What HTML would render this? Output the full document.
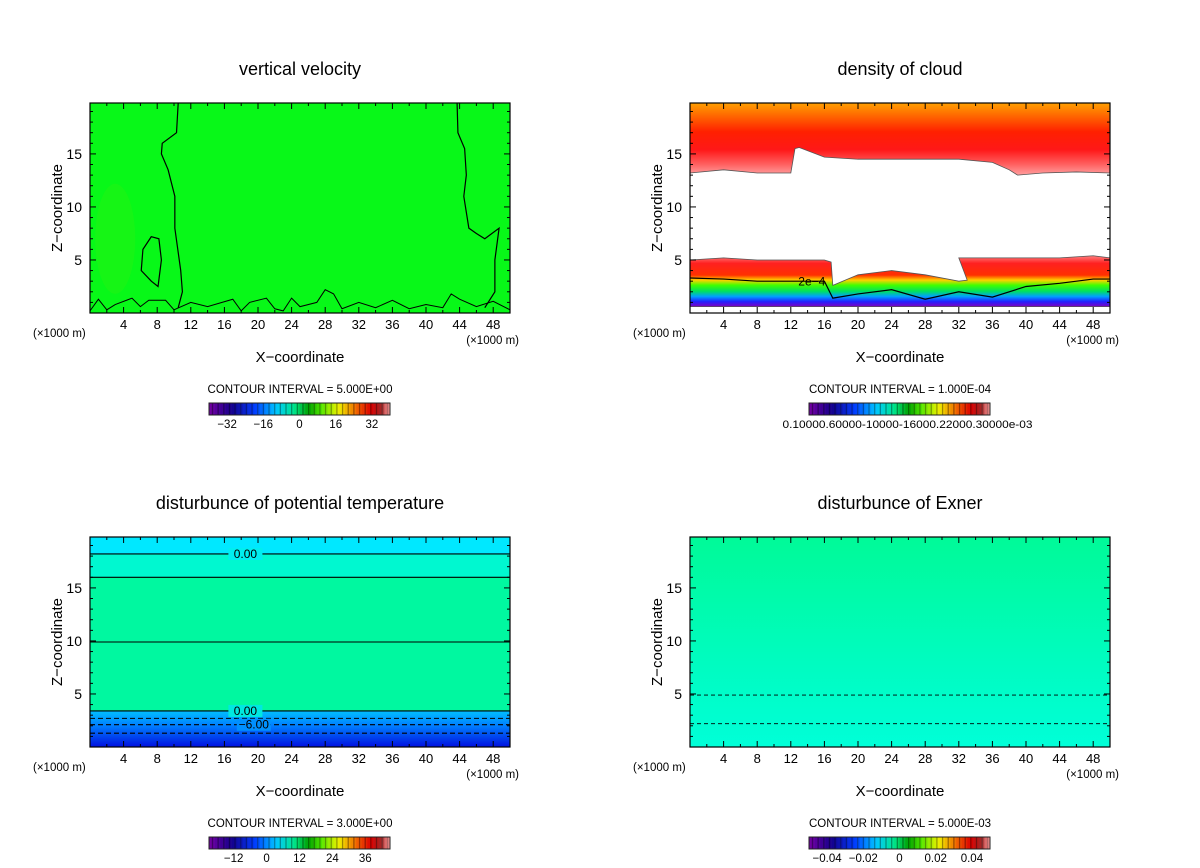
<!DOCTYPE html>
<html><head><meta charset="utf-8"><style>
html,body{margin:0;padding:0;background:#fff;}
svg{display:block;font-family:"Liberation Sans",sans-serif;}
</style></head><body>
<svg id="fig" width="1200" height="868" viewBox="0 0 1200 868" xmlns="http://www.w3.org/2000/svg">
<defs>
<linearGradient id="cloudTop" x1="0" y1="0" x2="0" y2="1">
<stop offset="0" stop-color="#ffa000"/><stop offset="0.2" stop-color="#ff6000"/><stop offset="0.4" stop-color="#ff2000"/><stop offset="0.65" stop-color="#ff1818"/><stop offset="0.85" stop-color="#ff6060"/><stop offset="1" stop-color="#ffa0a0"/></linearGradient>
<linearGradient id="cloudLow" x1="0" y1="0" x2="0" y2="1">
<stop offset="0" stop-color="#ff8080"/><stop offset="0.15" stop-color="#ff2020"/><stop offset="0.38" stop-color="#ff3000"/><stop offset="0.48" stop-color="#ffd000"/><stop offset="0.58" stop-color="#40ff00"/><stop offset="0.7" stop-color="#00e060"/><stop offset="0.8" stop-color="#00a0ff"/><stop offset="0.9" stop-color="#2020ff"/><stop offset="1" stop-color="#8000c0"/></linearGradient>
<linearGradient id="thetaLow" x1="0" y1="0" x2="0" y2="1">
<stop offset="0" stop-color="#00c0ff"/><stop offset="0.4" stop-color="#0080ff"/><stop offset="1" stop-color="#0010e0"/></linearGradient>
<linearGradient id="exner" x1="0" y1="0" x2="0" y2="1">
<stop offset="0" stop-color="#00fa98"/><stop offset="0.6" stop-color="#00fcc0"/><stop offset="1" stop-color="#00ffd8"/></linearGradient>
</defs>
</svg>
<script>
// ---- data ----
const xTicks = [4,8,12,16,20,24,28,32,36,40,44,48];
const yTicks = [5,10,15];
const xMax = 50, yMax = 19.8;
const titles = ["vertical velocity","density of cloud","disturbunce of potential temperature","disturbunce of Exner"];
const intervals = ["5.000E+00","1.000E-04","3.000E+00","5.000E-03"];
const cbLabelsW = ["-32","-16","0","16","32"], cbValsW = [-32,-16,0,16,32], cbRangeW=[-40,40];
const cbLabelsT = ["-12","0","12","24","36"], cbValsT = [-12,0,12,24,36], cbRangeT=[-21,45];
const cbLabelsP = ["-0.04","-0.02","0","0.02","0.04"], cbValsP = [-0.04,-0.02,0,0.02,0.04], cbRangeP=[-0.05,0.05];
const cloudX =      [0,4,8,12,12.5,13,16,20,24,28,32,36,38,39,42,46,50];
const cloudTopBase =[13.2,13.5,13.2,13.2,15.5,15.6,14.7,14.5,14.5,14.5,14.5,14.2,13.5,13.0,13.2,13.3,13.2];
const lowX =   [0,4,8,12,16,16.8,17,20,24,28,32,33,32,36,40,44,48,50];
const lowTop = [5,5.2,5,5,5,4.8,2.6,3.6,4,3.6,3,3.1,5.2,5.2,5.2,5.2,5.4,5.2];
const thetaSolid = [18.2,16,9.9,3.4];
const thetaDashed = [2.7,2.1,1.3];
const exnerDashed = [4.9,2.2];
// ---- layout ----
const NS="http://www.w3.org/2000/svg";
const svg=document.getElementById('fig');
function el(tag,attrs,parent){const e=document.createElementNS(NS,tag);for(const k in attrs)e.setAttribute(k,attrs[k]);(parent||svg).appendChild(e);return e;}
const panels=[{x0:90,y0:103},{x0:690,y0:103},{x0:90,y0:537},{x0:690,y0:537}];
const W=420,H=210;
function sx(p,v){return p.x0+v/xMax*W;}
function sy(p,v){return p.y0+H-v/yMax*H;}

panels.forEach((p,i)=>{
  const g=el('g',{});
  
  
  const t=el('text',{x:p.x0+210,y:p.y0-28,'text-anchor':'middle','font-size':18},g);t.textContent=titles[i];
  
  
  const field=el('g',{},g);
  
  
  drawField(i,p,field);
  const fr=el('rect',{x:p.x0,y:p.y0,width:W,height:H,fill:'none',stroke:'#000','stroke-width':1.2},g);
  
  
  for(let v=2;v<xMax;v+=2){const X=sx(p,v);const L=(v%4==0)?6:3;
    el('line',{x1:X,y1:p.y0+H,x2:X,y2:p.y0+H-L,stroke:'#000'},g);el('line',{x1:X,y1:p.y0,x2:X,y2:p.y0+L,stroke:'#000'},g);}
  for(let v=1;v<yMax;v+=1){const Y=sy(p,v);const L=(v%5==0)?6:3;
    el('line',{x1:p.x0,y1:Y,x2:p.x0+L,y2:Y,stroke:'#000'},g);el('line',{x1:p.x0+W,y1:Y,x2:p.x0+W-L,y2:Y,stroke:'#000'},g);}
  xTicks.forEach(v=>{const tt=el('text',{x:sx(p,v),y:p.y0+H+16,'text-anchor':'middle','font-size':13},g);tt.textContent=v;
    
    });
  yTicks.forEach(v=>{const tt=el('text',{x:p.x0-8,y:sy(p,v)+5,'text-anchor':'end','font-size':14},g);tt.textContent=v;
    
    });
  const u1=el('text',{x:p.x0-57,y:p.y0+H+24,'font-size':11.5},g);u1.textContent='(×1000 m)';
  
  
  const u2=el('text',{x:p.x0+W+9,y:p.y0+H+31,'font-size':11.5,'text-anchor':'end'},g);u2.textContent='(×1000 m)';
  
  
  const xl=el('text',{x:p.x0+210,y:p.y0+H+49,'text-anchor':'middle','font-size':15},g);xl.textContent='X−coordinate';
  
  
  const yl=el('text',{x:0,y:0,'text-anchor':'middle','font-size':15,transform:`translate(${p.x0-28},${p.y0+105}) rotate(-90)`},g);yl.textContent='Z−coordinate';
  
  
  const ci=el('text',{x:p.x0+210,y:p.y0+H+80,'text-anchor':'middle','font-size':11.5},g);ci.textContent='CONTOUR INTERVAL = '+intervals[i];
  
  
  const cb=[ [cbLabelsW,cbValsW,cbRangeW], null, [cbLabelsT,cbValsT,cbRangeT], [cbLabelsP,cbValsP,cbRangeP] ][i];
  drawColorbar(g,p.x0+119,p.y0+H+90,181,12,cb,i);
});

function hue(t){
  const stops=[[0,[110,0,160]],[0.12,[20,0,140]],[0.25,[0,60,255]],[0.37,[0,200,255]],[0.47,[0,230,140]],[0.55,[0,160,0]],[0.62,[80,230,0]],[0.72,[240,240,0]],[0.82,[240,100,0]],[0.9,[220,0,0]],[0.96,[160,40,40]],[1,[255,150,150]]];
  for(let k=1;k<stops.length;k++){if(t<=stops[k][0]){const a=stops[k-1],b=stops[k];const f=(t-a[0])/(b[0]-a[0]);
    return 'rgb('+a[1].map((c,j)=>Math.round(c+(b[1][j]-c)*f)).join(',')+')';}}
  return 'rgb(255,150,150)';
}
function drawColorbar(g,x,y,w,h,cb,i){
  const bar=el('g',{},g);
  
  
  const n=64;
  for(let k=0;k<n;k++){el('rect',{x:x+k*w/n,y:y,width:w/n+0.3,height:h,fill:hue(k/(n-1))},bar);
    if(k%2==1) el('rect',{x:x+k*w/n,y:y,width:w/n*0.45,height:h,fill:'rgba(0,0,0,0.35)'},bar);}
  el('rect',{x:x,y:y,width:w,height:h,fill:'none',stroke:'#222','stroke-width':1},bar);
  if(cb){const [labs,vals,rng]=cb;
    labs.forEach((l,k)=>{const X=x+(vals[k]-rng[0])/(rng[1]-rng[0])*w;const tt=el('text',{x:X,y:y+h+13,'text-anchor':'middle','font-size':11.5},bar);tt.textContent=l.replace('-','−');
      
      });}
  else{const tt=el('text',{x:x+w/2+8,y:y+h+13,'text-anchor':'middle','font-size':11,textLength:250,lengthAdjust:'spacingAndGlyphs'},bar);tt.textContent='0.10000.60000-10000-16000.22000.30000e-03';
    
    }
}
function poly(p,xs,ys){return xs.map((v,k)=>sx(p,v)+','+sy(p,ys[k])).join(' ');}
function drawField(i,p,g){
  if(i==0){
    el('rect',{x:p.x0,y:p.y0,width:W,height:H,fill:'#08f818'},g);
    el('ellipse',{cx:sx(p,3),cy:sy(p,7),rx:20,ry:55,fill:'#30f010',opacity:0.35},g);
    const lines=[
      [[10.5,19.8],[10.3,17],[8.6,16],[8.5,15],[9.3,13.5],[10.1,11],[10.1,8],[10.8,4],[11,2],[10.5,0.5]],
      [[43.7,19.8],[43.8,17],[44.6,15.5],[44.8,13],[44.5,11],[45.1,8],[46,7.5],[47,7],[48.7,8],[48.2,5],[48.2,2],[47,0.5]]];
    lines.forEach(L=>{const c=el('polyline',{points:poly(p,L.map(a=>a[0]),L.map(a=>a[1])),fill:'none',stroke:'#000','stroke-width':1.2},g);
      
      });
    const o=[[7.3,7.2],[6.3,6],[6.1,4],[7.3,3],[8.1,2.5],[8.5,5],[8.2,7]];
    el('polygon',{points:poly(p,o.map(a=>a[0]),o.map(a=>a[1])),fill:'none',stroke:'#000','stroke-width':1.2},g);
    const bx=[0,1,2,3,5,6,7,9,10,12,14,17,18,19,21,22,23,24,25,27,28,29,30,32,34,36,38,40,42,43,44,46,48,50];
    const bh=[0.2,1.3,0.3,0.8,1.4,0.6,1.2,1.2,0.3,1.0,0.6,1.3,0.2,1.0,1.4,0.4,0.2,1.4,0.6,1.0,2.2,1.8,0.4,1.0,0.5,1.2,0.4,0.8,0.5,1.8,1.3,0.6,1.1,0.3];
    el('polyline',{points:poly(p,bx,bh),fill:'none',stroke:'#000','stroke-width':1},g);
  } else if(i==1){
    el('rect',{x:p.x0,y:p.y0,width:W,height:H,fill:'#fff'},g);
    const tx=cloudX.concat([50,0]), ty=cloudTopBase.concat([yMax,yMax]);
    el('polygon',{points:poly(p,tx,ty),fill:'url(#cloudTop)',stroke:'#555','stroke-width':0.8},g);
    const lx=lowX.concat([50,0]), ly=lowTop.concat([0.6,0.6]);
    el('polygon',{points:poly(p,lx,ly),fill:'url(#cloudLow)',stroke:'#555','stroke-width':0.8},g);
    const cx=[0,4,8,12,16,17,20,24,28,32,36,40,44,48,50], cy=[3.3,3.2,3.0,3.0,3.0,1.4,1.8,2.2,1.3,2.0,1.5,2.5,2.8,3.2,3.2];
    const c=el('polyline',{points:poly(p,cx,cy),fill:'none',stroke:'#000','stroke-width':1.2},g);
    
    
    const lb=el('text',{x:sx(p,14.5),y:sy(p,2.6),'font-size':12,'text-anchor':'middle'},g);lb.textContent='2e−4';
  } else if(i==2){
    el('rect',{x:p.x0,y:p.y0,width:W,height:H,fill:'#00f8a0'},g);
    el('rect',{x:p.x0,y:p.y0,width:W,height:sy(p,18.2)-p.y0,fill:'#00e8ff'},g);
    el('rect',{x:p.x0,y:sy(p,18.2),width:W,height:sy(p,16)-sy(p,18.2),fill:'#00f8d0'},g);
    el('rect',{x:p.x0,y:sy(p,3.4),width:W,height:p.y0+H-sy(p,3.4),fill:'url(#thetaLow)'},g);
    thetaSolid.forEach(v=>{const c=el('line',{x1:p.x0,x2:p.x0+W,y1:sy(p,v),y2:sy(p,v),stroke:'#000','stroke-width':1.1},g);
      
      });
    thetaDashed.forEach(v=>{const c=el('line',{x1:p.x0,x2:p.x0+W,y1:sy(p,v),y2:sy(p,v),stroke:'#000','stroke-width':1.1,'stroke-dasharray':'5,3'},g);
      
      });
    [[18.2,'0.00',18.5,'#00eef0'],[3.4,'0.00',18.5,'#00e8e0'],[2.1,'−6.00',19.5,'#0090ff']].forEach(a=>{const X=sx(p,a[2]);
      el('rect',{x:X-17,y:sy(p,a[0])-6,width:34,height:12,fill:a[3]},g);
      const tt=el('text',{x:X,y:sy(p,a[0])+4,'font-size':12,'text-anchor':'middle'},g);tt.textContent=a[1];});
  } else {
    el('rect',{x:p.x0,y:p.y0,width:W,height:H,fill:'url(#exner)'},g);
    exnerDashed.forEach(v=>{const c=el('line',{x1:p.x0,x2:p.x0+W,y1:sy(p,v),y2:sy(p,v),stroke:'#000','stroke-width':0.9,'stroke-dasharray':'4,3'},g);
      
      });
  }
}
</script>
</body></html>
